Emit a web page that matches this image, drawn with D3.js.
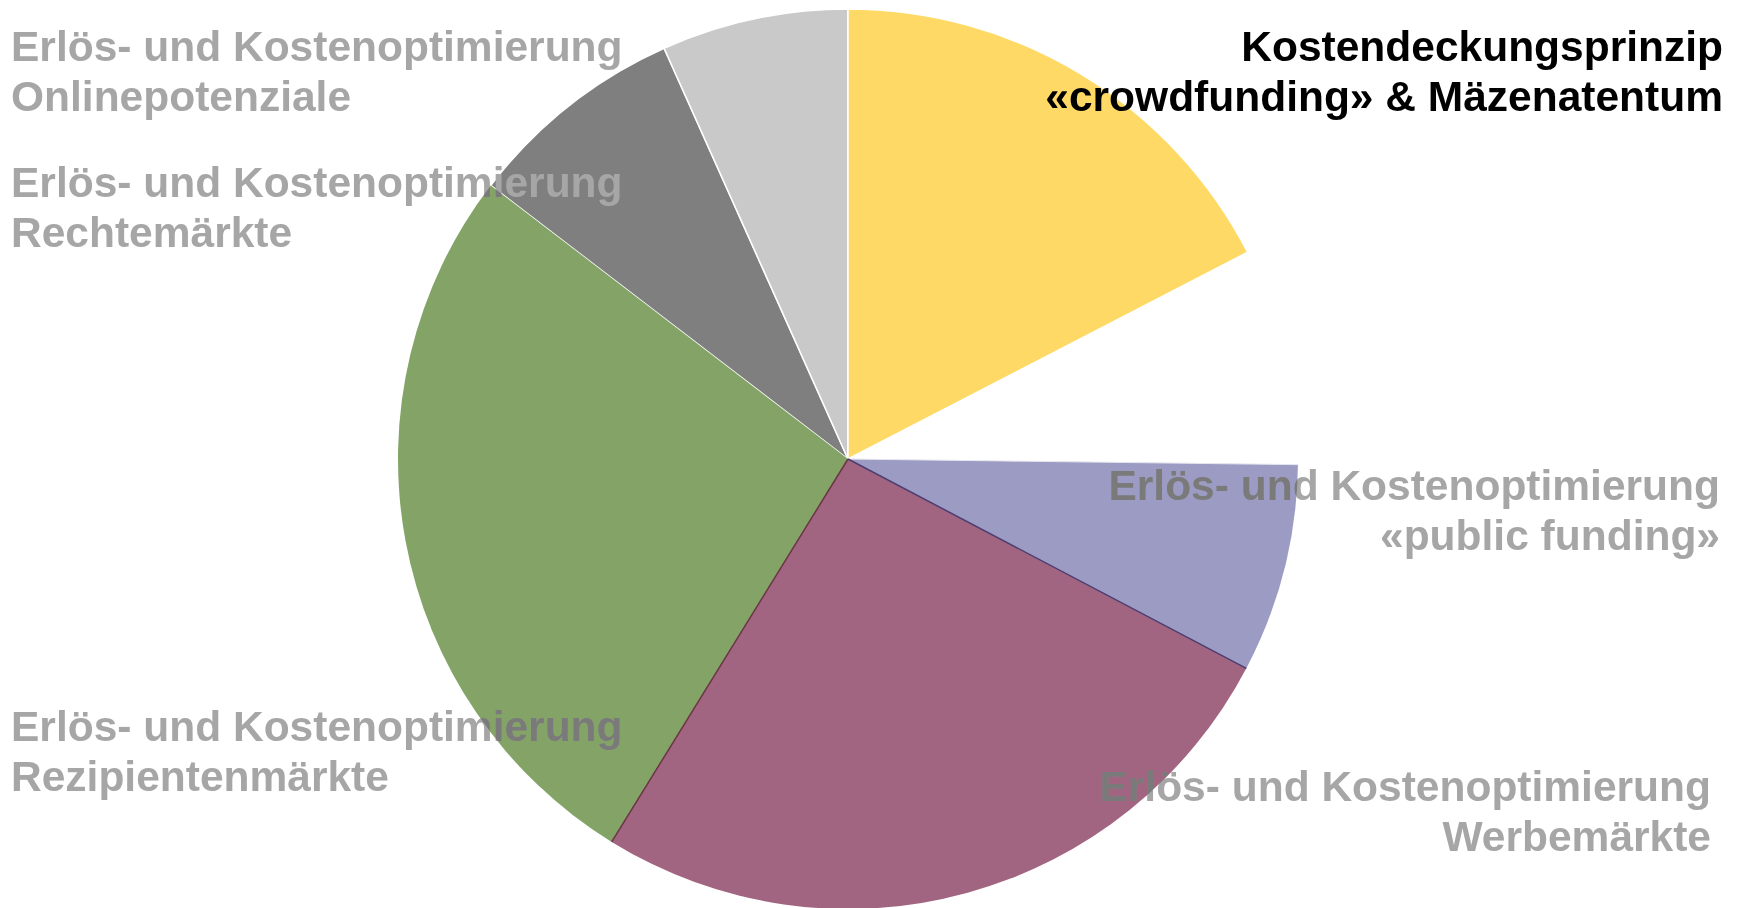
<!DOCTYPE html>
<html>
<head>
<meta charset="utf-8">
<script src="https://cdn.jsdelivr.net/npm/d3@7"></script>
<style>
  html, body { margin: 0; padding: 0; background: #fff; }
  svg { display: block; font-family: "Liberation Sans", Arial, sans-serif; font-weight: bold; }
</style>
</head>
<body>
<div id="chart"></div>
<script>
// slices, clockwise from 12 o'clock
const categories = [
  "Kostendeckungsprinzip",
  "(leer)",
  "«public funding»",
  "Werbemärkte",
  "Rezipientenmärkte",
  "Rechtemärkte",
  "Onlinepotenziale"
];
const values = [17.4, 7.8, 7.5, 26.1, 26.6, 7.9, 6.7];

const labelLines = [
  ["Kostendeckungsprinzip", "«crowdfunding» & Mäzenatentum"],
  [],
  ["Erlös- und Kostenoptimierung", "«public funding»"],
  ["Erlös- und Kostenoptimierung", "Werbemärkte"],
  ["Erlös- und Kostenoptimierung", "Rezipientenmärkte"],
  ["Erlös- und Kostenoptimierung", "Rechtemärkte"],
  ["Erlös- und Kostenoptimierung", "Onlinepotenziale"]
];

(() => {
  const width = 1744, height = 908;
  const cx = 848, cy = 459, radius = 450;

  // styles per slice
  const fills   = ["#FFD966", "none", "#9C9BC4", "#A26581", "#84A467", "#7F7F7F", "#C9C9C9"];
  const under   = [false, false, false, false, false, true, true];
  const labelPos = [
    { x: 1723, y: 61, anchor: "end" },
    null,
    { x: 1720, y: 500, anchor: "end" },
    { x: 1711, y: 801, anchor: "end" },
    { x: 11, y: 741, anchor: "start" },
    { x: 11, y: 197, anchor: "start" },
    { x: 11, y: 61, anchor: "start" }
  ];
  const lineH = 50;

  const data = categories.map((c, i) => ({ name: c, value: values[i], i }));

  const pie = d3.pie().value(d => d.value).sort(null).startAngle(0).endAngle(2 * Math.PI);
  const arc = d3.arc().innerRadius(0).outerRadius(radius);
  const arcs = pie(data);
  const colored = arcs.filter(a => !under[a.data.i] && fills[a.data.i] !== "none");

  const svg = d3.select("#chart").append("svg")
    .attr("width", width)
    .attr("height", height);

  // Clip: nur farbige Segmente
  svg.append("defs").append("clipPath").attr("id", "clipColored")
    .selectAll("path")
    .data(colored)
    .join("path")
    .attr("transform", `translate(${cx},${cy})`)
    .attr("d", arc);

  const g = svg.append("g").attr("transform", `translate(${cx},${cy})`);

  // graue Segmente
  g.append("g").selectAll("path")
    .data(arcs.filter(a => under[a.data.i]))
    .join("path")
    .attr("d", arc)
    .attr("fill", a => fills[a.data.i])
    .attr("stroke", "#fff")
    .attr("stroke-width", 1.5);

  function drawLabels(parent, color) {
    data.forEach(d => {
      const p = labelPos[d.i];
      if (!p || d.i === 0) return;
      const t = parent.append("text")
        .attr("x", p.x).attr("y", p.y)
        .attr("text-anchor", p.anchor)
        .attr("fill", color)
        .style("font-size", "42.5px");
      labelLines[d.i].forEach((line, k) => {
        t.append("tspan").attr("x", p.x).attr("y", p.y + k * lineH).text(line);
      });
    });
  }

  drawLabels(svg.append("g"), "#A6A6A6");

  // farbige Segmente
  g.append("g").selectAll("path")
    .data(colored)
    .join("path")
    .attr("d", arc)
    .attr("fill", a => fills[a.data.i])
    .attr("stroke", a => a.data.i === 0 ? "#fff" : "none")
    .attr("stroke-width", 1.5);

  // Beschriftung durchscheinend über den farbigen Segmenten
  drawLabels(svg.append("g")
    .attr("clip-path", "url(#clipColored)")
    .style("mix-blend-mode", "multiply"), "#BBBBBB");

  // Trennlinien
  const edge = (ang, color, w) => g.append("line")
    .attr("x1", 0).attr("y1", 0)
    .attr("x2", radius * Math.sin(ang))
    .attr("y2", -radius * Math.cos(ang))
    .attr("stroke", color).attr("stroke-width", w);
  edge(arcs[2].startAngle, "#e6e6ee", 1);
  edge(arcs[3].startAngle, "#4b3d70", 1.5);
  edge(arcs[4].startAngle, "#6a3444", 1.5);

  // Titel (schwarz)
  const p0 = labelPos[0];
  const title = svg.append("text")
    .attr("x", p0.x).attr("y", p0.y)
    .attr("text-anchor", p0.anchor)
    .attr("fill", "#000")
    .style("font-size", "42.5px");
  labelLines[0].forEach((line, k) => {
    title.append("tspan").attr("x", p0.x).attr("y", p0.y + k * lineH).text(line);
  });
})();
</script>
</body>
</html>
